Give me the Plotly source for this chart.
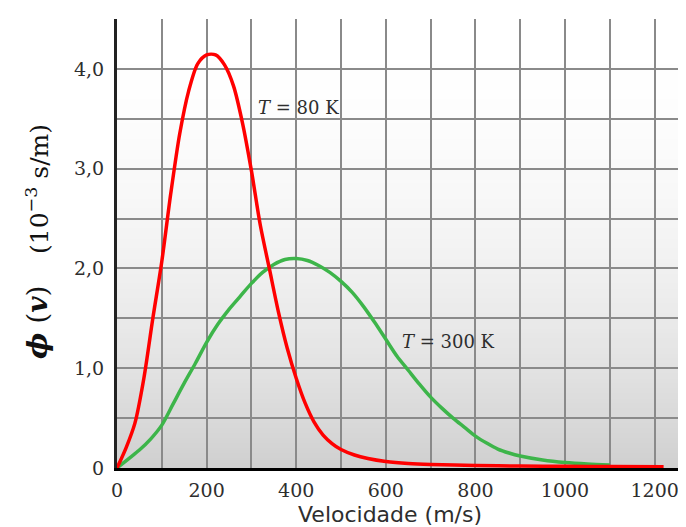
import plotly.graph_objects as go

# ---- data ----
v_80 = [0, 20, 40, 60, 80, 100, 120, 140, 160, 180, 200, 220, 240, 260, 280, 300,
        320, 340, 360, 380, 400, 420, 440, 460, 480, 500, 530, 560, 600, 650, 700,
        800, 900, 1000, 1100, 1220]
phi_80 = [0, 0.2, 0.45, 0.9, 1.5, 2.07, 2.75, 3.35, 3.78, 4.05, 4.14, 4.14, 4.04, 3.83, 3.46, 2.98,
          2.43, 2.0, 1.57, 1.2, 0.9, 0.65, 0.46, 0.33, 0.245, 0.185, 0.13, 0.095, 0.065, 0.045, 0.035,
          0.025, 0.02, 0.017, 0.014, 0.012]

v_300 = [0, 25, 50, 75, 100, 125, 150, 175, 200, 225, 250, 275, 300, 325, 350, 375, 400,
         425, 450, 475, 500, 525, 550, 575, 600, 625, 650, 675, 700, 725, 750, 775, 800,
         825, 850, 875, 900, 950, 1000, 1050, 1100]
phi_300 = [0, 0.09, 0.18, 0.29, 0.43, 0.64, 0.85, 1.05, 1.26, 1.44, 1.59, 1.72, 1.85, 1.96, 2.04, 2.09, 2.10,
           2.08, 2.03, 1.96, 1.87, 1.76, 1.62, 1.46, 1.29, 1.12, 0.98, 0.84, 0.71, 0.6, 0.5, 0.41, 0.32,
           0.25, 0.19, 0.15, 0.12, 0.08, 0.055, 0.04, 0.03]

x_tickvals = [0, 200, 400, 600, 800, 1000, 1200]
x_ticktext = ["0", "200", "400", "600", "800", "1000", "1200"]
y_tickvals = [0, 1, 2, 3, 4]
y_ticktext = ["0", "1,0", "2,0", "3,0", "4,0"]

label_80 = "<i>T</i> = 80 K"
label_300 = "<i>T</i> = 300 K"
x_title = "Velocidade (m/s)"
y_title_a = "<b><i>ϕ</i></b> (<b><i>v</i></b>)"
y_title_b = "(10<sup>−3</sup> s/m)"

RED = "#ff0000"
GREEN = "#3db54a"
GRID = "#8a8a8a"
TXT = "#2e2e2e"

fig = go.Figure()
fig.add_trace(go.Scatter(x=v_300, y=phi_300, mode="lines",
                         line=dict(color=GREEN, width=3.5, shape="spline", smoothing=0.8),
                         hoverinfo="skip", showlegend=False))
fig.add_trace(go.Scatter(x=v_80, y=phi_80, mode="lines",
                         line=dict(color=RED, width=3.5, shape="spline", smoothing=0.8),
                         hoverinfo="skip", showlegend=False))

# background gradient (white at top, grey at bottom)
n = 90
shapes = []
for i in range(n):
    t0 = i / n
    t = (i + 0.5) / n
    g = int(round(255 - 48 * t ** 2))
    shapes.append(dict(type="rect", xref="paper", yref="paper",
                       x0=0, x1=1, y0=max(0, 1 - t0 - 1.0 / n - 0.002), y1=1 - t0,
                       fillcolor=f"rgb({g},{g},{g})", line=dict(width=0), layer="below"))

# page body has an 8px margin: plot area on screen = (117..686, 19..468)
OFF = 8
L, W, T, H = 117, 569, 19, 449


def px(xp):
    return (xp - L) / W


def py(yp):
    return (T + H - yp) / H


annotations = [
    dict(text=label_80, x=310, y=3.61, xref="x", yref="y", xanchor="left", yanchor="middle",
         showarrow=False, font=dict(family="DejaVu Serif", size=18, color=TXT)),
    dict(text=label_300, x=631, y=1.27, xref="x", yref="y", xanchor="left", yanchor="middle",
         showarrow=False, font=dict(family="DejaVu Serif", size=18, color=TXT)),
    dict(text=x_title, x=px(390), y=py(514), xref="paper", yref="paper",
         xanchor="center", yanchor="middle", showarrow=False,
         font=dict(family="DejaVu Sans", size=22, color=TXT)),
    dict(text=y_title_a, x=px(37), y=py(323), xref="paper", yref="paper",
         xanchor="center", yanchor="middle", showarrow=False, textangle=-90,
         font=dict(family="DejaVu Serif", size=28, color="#111111")),
    dict(text=y_title_b, x=px(37), y=py(189), xref="paper", yref="paper",
         xanchor="center", yanchor="middle", showarrow=False, textangle=-90,
         font=dict(family="DejaVu Serif", size=25, color="#111111")),
]

fig_w = 686 - OFF
fig_h = 527 - OFF
fig.update_layout(
    width=fig_w, height=fig_h,
    margin=dict(l=L - OFF, r=fig_w - (L - OFF) - W, t=T - OFF, b=fig_h - (T - OFF) - H,
                pad=0, autoexpand=False),
    paper_bgcolor="white",
    plot_bgcolor="rgba(0,0,0,0)",
    shapes=shapes,
    annotations=annotations,
    xaxis=dict(range=[0, 1270], tickvals=x_tickvals, ticktext=x_ticktext, automargin=False,
               showgrid=True, gridcolor=GRID, gridwidth=1.5,
               minor=dict(dtick=100, tick0=0, showgrid=True, gridcolor=GRID, gridwidth=1.5),
               zeroline=False, showline=True, linecolor="black", linewidth=2.5,
               ticks="", ticklabelstandoff=3,
               tickfont=dict(family="DejaVu Serif", size=19, color=TXT)),
    yaxis=dict(range=[0, 4.5], tickvals=y_tickvals, ticktext=y_ticktext, automargin=False,
               showgrid=True, gridcolor=GRID, gridwidth=1.5,
               minor=dict(dtick=0.5, tick0=0, showgrid=True, gridcolor=GRID, gridwidth=1.5),
               zeroline=False, showline=True, linecolor="#222222", linewidth=3,
               ticks="", ticklabelstandoff=6,
               tickfont=dict(family="DejaVu Serif", size=19, color=TXT)),
)

fig.write_html("out.html")
